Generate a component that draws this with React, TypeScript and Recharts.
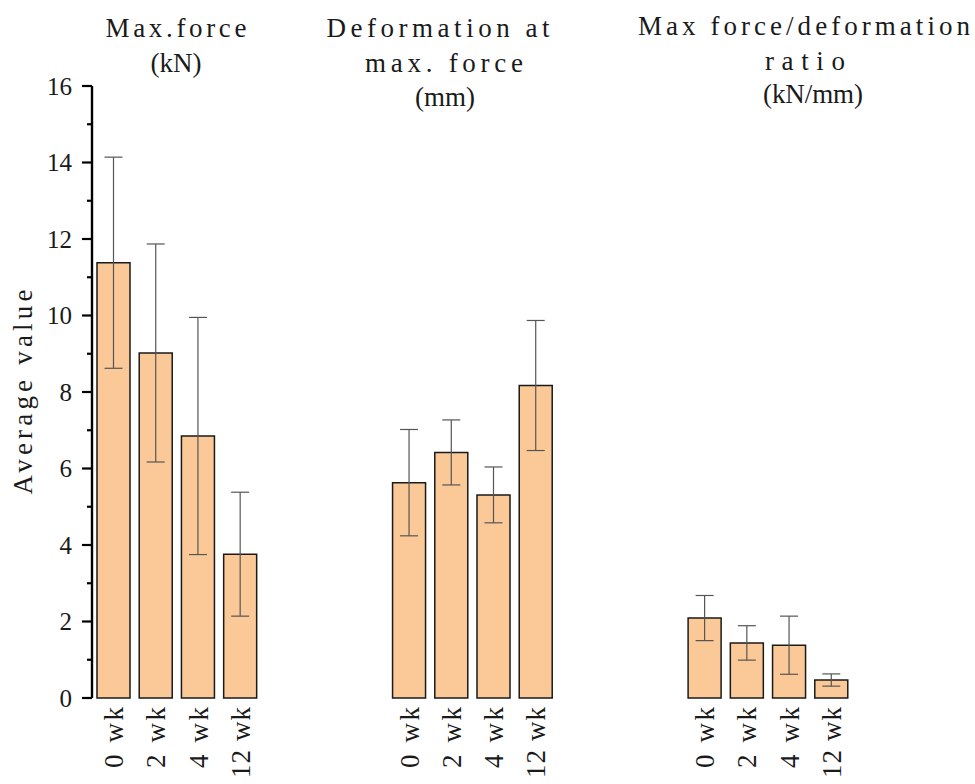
import React from 'react';
import { BarChart, Bar, XAxis, YAxis, ErrorBar } from 'recharts';

const weekLabels = ['0 wk', '2 wk', '4 wk', '12 wk'];
const titleMaxForce = ['Max.force', '(kN)'];
const titleDeformation = ['Deformation at', 'max. force', '(mm)'];
const titleRatio = ['Max force/deformation', 'ratio', '(kN/mm)'];
const maxForce = [11.38, 9.02, 6.85, 3.76];
const maxForceErr = [2.76, 2.85, 3.1, 1.62];
const deformation = [5.63, 6.42, 5.31, 8.17];
const deformationErr = [1.39, 0.85, 0.73, 1.7];
const ratio = [2.09, 1.44, 1.38, 0.47];
const ratioErr = [0.59, 0.45, 0.76, 0.16];
const yTicks = [0, 1, 2, 3, 4, 5, 6, 7, 8, 9, 10, 11, 12, 13, 14, 15, 16];
const yLabel = 'Average value';
const gapSlots = 3;

const groups = [
  { values: maxForce, errs: maxForceErr },
  { values: deformation, errs: deformationErr },
  { values: ratio, errs: ratioErr },
];

type Row = { key: string; label: string; value: number | null; err: number | null };
const data: Row[] = [];
groups.forEach((g, gi) => {
  if (gi > 0) {
    for (let k = 0; k < gapSlots; k++) data.push({ key: `gap${gi}-${k}`, label: '', value: null, err: null });
  }
  g.values.forEach((v, i) => data.push({ key: `g${gi}-${i}`, label: weekLabels[i], value: v, err: g.errs[i] }));
});

const SERIF = "'Liberation Serif', 'DejaVu Serif', serif";
const TEXT = '#1a1a1a';
const FS = 27;

const YTick = (props: any) => {
  const { x, y, payload } = props;
  const v = payload.value as number;
  const major = v % 2 === 0;
  return (
    <g>
      <line x1={x - (major ? 10 : 5)} x2={x} y1={y} y2={y} stroke="#000" strokeWidth={2.2} />
      {major && (
        <text x={x - 20} y={y} dy={8.5} textAnchor="end" fontFamily={SERIF} fontSize={25} fill={TEXT}>
          {v}
        </text>
      )}
    </g>
  );
};

const XTick = (props: any) => {
  const { x, y, index } = props;
  const row = data[index];
  if (!row || !row.label) return null;
  const len = row.label.length >= 5 ? 71 : 61;
  const tx = x + 10;
  return (
    <text
      x={tx}
      y={y}
      transform={`rotate(-90, ${tx}, ${y})`}
      textAnchor="end"
      fontFamily={SERIF}
      fontSize={FS}
      textLength={len}
      lengthAdjust="spacing"
      fill={TEXT}
    >
      {row.label}
    </text>
  );
};

const titleBlocks = [
  { lines: titleMaxForce, cx: [176, 176], baselines: [37, 72], lens: [141, 0] },
  { lines: titleDeformation, cx: [438, 444, 445], baselines: [37, 72, 106], lens: [223, 158, 0] },
  { lines: titleRatio, cx: [804, 805, 813], baselines: [35, 70, 103], lens: [332, 80, 100] },
];

export default function App() {
  return (
    <div style={{ position: 'absolute', left: 0, top: 0, width: 975, height: 784, background: '#fff' }}>
      <BarChart
        width={975}
        height={784}
        data={data}
        margin={{ top: 86, right: 123, bottom: 0, left: 0 }}
        barCategoryGap={0}
      >
        <XAxis
          dataKey="key"
          axisLine={false}
          tickLine={false}
          tickSize={0}
          tickMargin={9}
          height={86}
          interval={0}
          tick={<XTick />}
        />
        <YAxis
          domain={[0, 16]}
          ticks={yTicks}
          interval={0}
          width={92}
          axisLine={{ stroke: '#000', strokeWidth: 2.4 }}
          tickLine={false}
          tickSize={0}
          tickMargin={0}
          tick={<YTick />}
        />
        <Bar
          dataKey="value"
          fill="#FBC997"
          stroke="#1a1a1a"
          strokeWidth={1.5}
          barSize={33}
          isAnimationActive={false}
        >
          <ErrorBar dataKey="err" width={9} stroke="#555" strokeWidth={1.2} direction="y" />
        </Bar>
      </BarChart>
      <svg
        width={975}
        height={784}
        style={{ position: 'absolute', left: 0, top: 0, pointerEvents: 'none' }}
      >
        {titleBlocks.map((b, bi) =>
          b.lines.map((t, li) => (
            <text
              key={`${bi}-${li}`}
              x={b.cx[li]}
              y={b.baselines[li]}
              textAnchor="middle"
              fontFamily={SERIF}
              fontSize={FS}
              {...(b.lens[li] ? { textLength: b.lens[li], lengthAdjust: 'spacing' } : {})}
              fill={TEXT}
            >
              {t}
            </text>
          ))
        )}
        <text
          x={32}
          y={392}
          transform="rotate(-90, 32, 392)"
          textAnchor="middle"
          fontFamily={SERIF}
          fontSize={FS}
          textLength={205}
          lengthAdjust="spacing"
          fill={TEXT}
        >
          {yLabel}
        </text>
      </svg>
    </div>
  );
}
